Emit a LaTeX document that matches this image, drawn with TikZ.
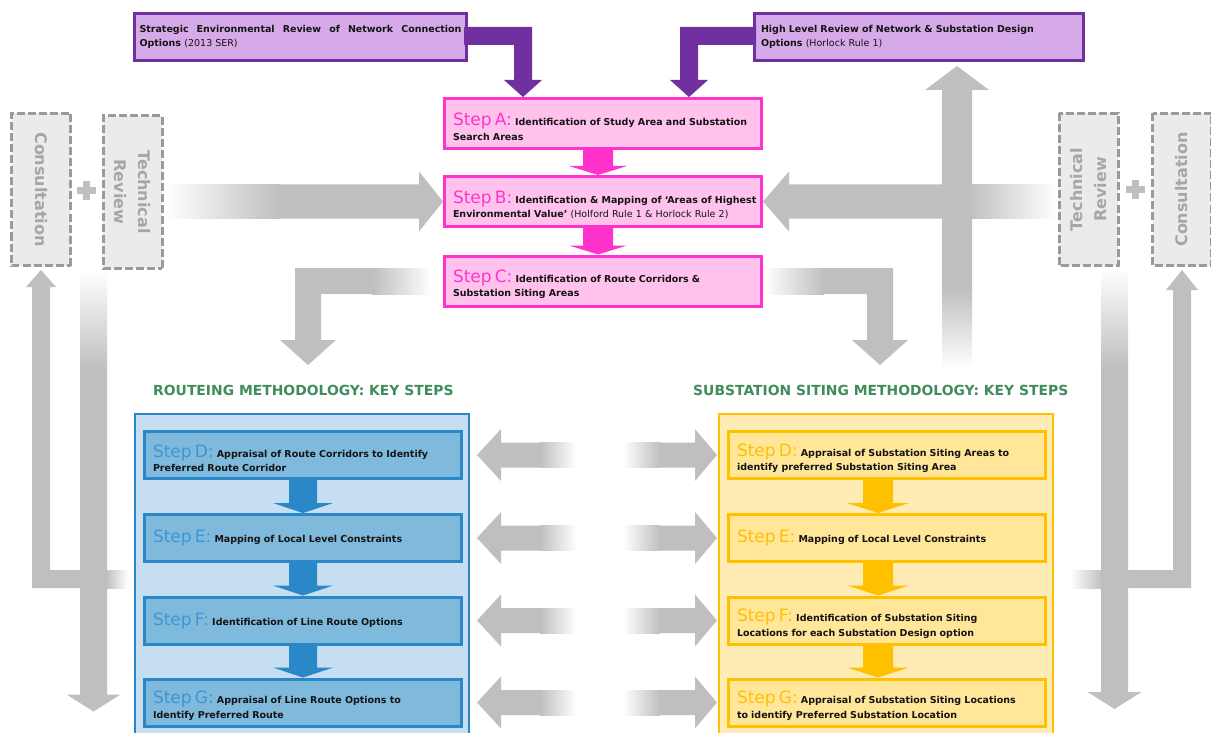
\documentclass[tikz,border=0pt]{standalone}
\usepackage{fontspec}
\setmainfont{DejaVu Sans}
\usetikzlibrary{calc}

\definecolor{purpfill}{HTML}{D6AAE8}
\definecolor{purpline}{HTML}{7030A0}
\definecolor{pinkfill}{HTML}{FFC2EC}
\definecolor{pinkline}{HTML}{FF33CC}
\definecolor{bluepanel}{HTML}{C5DEF1}
\definecolor{bluefill}{HTML}{7FB9DC}
\definecolor{blueline}{HTML}{2A87C8}
\definecolor{bluetext}{HTML}{3C96D6}
\definecolor{yelpanel}{HTML}{FFEBB4}
\definecolor{yelfill}{HTML}{FFE699}
\definecolor{yelline}{HTML}{FFC000}
\definecolor{arrowgray}{HTML}{BFBFBF}
\definecolor{dashgray}{HTML}{9A9A9A}
\definecolor{boxgray}{HTML}{EBEBEB}
\definecolor{labelgray}{HTML}{A6A6A6}
\definecolor{headgreen}{HTML}{3F8C5C}
\definecolor{bodytext}{HTML}{141414}

\newcommand{\stp}[3][19pt]{{\rule{0pt}{#1}\color{#2}\fontsize{17}{14}\selectfont\mdseries #3}}

\tikzset{
  bodyfont/.style={font=\fontsize{9.5}{14.5}\selectfont\bfseries, text=bodytext},
  reviewbox/.style={bodyfont, draw=purpline, fill=purpfill, line width=3pt,
    minimum height=47pt, inner sep=0pt},
  stepbox/.style={bodyfont, line width=3pt, minimum width=317pt, minimum height=47pt,
    text width=300pt, inner sep=0pt, align=left},
  pinkstep/.style={stepbox, draw=pinkline, fill=pinkfill, minimum height=50pt},
  bluestep/.style={stepbox, draw=blueline, fill=bluefill},
  yelstep/.style={stepbox, draw=yelline, fill=yelfill},
  panel/.style={line width=2pt, minimum width=334pt, minimum height=340pt,
    inner sep=0pt, anchor=north west},
  dashbox/.style={draw=dashgray, fill=boxgray, line width=3pt, dash pattern=on 8pt off 3pt,
    minimum width=152pt, minimum height=59pt, inner sep=0pt, text=labelgray,
    font=\fontsize{16}{24}\selectfont\bfseries, align=center},
  heading/.style={font=\fontsize{13.9}{16}\selectfont\bfseries, text=headgreen,
    anchor=west, inner sep=0pt},
  blockdown/.style args={#1/#2/#3}{to path={
    ($(\tikztostart)+(-#1,0)$) -- ($(\tikztotarget)+(-#1,-#3)$)
    -- ($(\tikztotarget)+(-#2,-#3)$) -- (\tikztotarget)
    -- ($(\tikztotarget)+(#2,-#3)$) -- ($(\tikztotarget)+(#1,-#3)$)
    -- ($(\tikztostart)+(#1,0)$) -- cycle}}
}

\begin{document}
\begin{tikzpicture}[x=1pt,y=-1pt]
  \useasboundingbox (0,0) rectangle (1211,733);
  \clip (0,0) rectangle (1211,733);

  \node[reviewbox, minimum width=332pt, text width=322pt, align=justify] (ser) at (300.5,37)
    {Strategic Environmental Review of Network Connection\linebreak Options {\mdseries(2013 SER)}};
  \node[reviewbox, minimum width=329pt, text width=316pt, align=left] (hlr) at (919,37)
    {High Level Review of Network \& Substation Design\\Options {\mdseries(Horlock Rule 1)}};

  \node[pinkstep] (A) at (603,123.5)
    {\stp{pinkline}{Step A:} Identification of Study Area and Substation\\Search Areas};
  \node[pinkstep] (B) at (603,201.5)
    {\mbox{\stp{pinkline}{Step B:} Identification \& Mapping of ‘Areas of Highest}\\Environmental Value’ {\mdseries(Holford Rule 1 \& Horlock Rule 2)}};
  \node[pinkstep] (C) at (603,281)
    {\stp{pinkline}{Step C:} Identification of Route Corridors \&\\Substation Siting Areas};

  \node[dashbox, rotate=-90] (consL) at (41,189.5) {Consultation};
  \node[dashbox, rotate=-90] (techL) at (132.5,192) {Technical\\Review};
  \node[dashbox, rotate=90] (techR) at (1088.5,189.5) {Technical\\Review};
  \node[dashbox, rotate=90] (consR) at (1182,189.5) {Consultation};

  \coordinate (plusL) at ($(consL)!0.5!(techL)$);
  \coordinate (plusR) at ($(techR)!0.5!(consR)$);
  \foreach \p in {plusL,plusR}{
    \fill[arrowgray] ($(\p)+(-9.5,-3.5)$) rectangle ++(19,7);
    \fill[arrowgray] ($(\p)+(-3.5,-9.5)$) rectangle ++(7,19);
  }

  % purple feeds into step A
  \begin{scope}[fill=purpline]
    \fill ([xshift=-80pt]A.north) -- ++(19,-17) -- ++(-10,0) -- ++(0,-53) -- ++(-68,0)
      -- ++(0,18) -- ++(50,0) -- ++(0,35) -- ++(-10,0) -- cycle;
    \fill ([xshift=86pt]A.north) -- ++(19,-17) -- ++(-10,0) -- ++(0,-35) -- ++(58,0)
      -- ++(0,-18) -- ++(-76,0) -- ++(0,53) -- ++(-10,0) -- cycle;
  \end{scope}

  % grey review and consultation arrows
  \begin{scope}[fill=arrowgray]
    \fill (B.west) -- ++(-24,-30) -- ++(0,13) -- ++(-140,0) -- ++(0,34) -- ++(140,0)
      -- ++(0,13) -- cycle;
    \shade[left color=white, right color=arrowgray] ($(B.west)+(-278,-17)$) rectangle ($(B.west)+(-163,17)$);
    \fill (B.east) -- ++(26,-30) -- ++(0,13) -- ++(180,0) -- ++(0,34) -- ++(-180,0)
      -- ++(0,13) -- cycle;
    \shade[left color=arrowgray, right color=white] ($(B.east)+(205,-17)$) rectangle ($(B.east)+(293,17)$);

    \coordinate (vt) at ([xshift=38pt,yshift=-4pt]hlr.south);
    \fill (vt) -- ++(32,24) -- ++(-17,0) -- ++(0,200) -- ++(-30,0) -- ++(0,-200)
      -- ++(-17,0) -- cycle;
    \shade[top color=arrowgray, bottom color=white] ($(vt)+(-15,223)$) rectangle ($(vt)+(15,302)$);

    \fill ($(C.west)+(-70,-13)$) -- ++(-78,0) -- ++(0,72) -- ++(-15,0) -- ++(28,25)
      -- ++(28,-25) -- ++(-15,0) -- ++(0,-46) -- ++(52,0) -- cycle;
    \shade[left color=arrowgray, right color=white] ($(C.west)+(-71,-13)$) rectangle ($(C.west)+(-11,13)$);
    \fill ($(C.east)+(60,-13)$) -- ++(70,0) -- ++(0,72) -- ++(15,0) -- ++(-28,25)
      -- ++(-28,-25) -- ++(15,0) -- ++(0,-46) -- ++(-44,0) -- cycle;
    \shade[left color=white, right color=arrowgray] ($(C.east)+(2,-13)$) rectangle ($(C.east)+(61,13)$);

    \coordinate (tl) at ([yshift=-3pt]consL.east);
    \fill (tl) -- ++(15,17) -- ++(-6,0) -- ++(0,283) -- ++(57,0) -- ++(0,18) -- ++(-75,0)
      -- ++(0,-301) -- ++(-6,0) -- cycle;
    \shade[left color=arrowgray, right color=white] ($(tl)+(65,300)$) rectangle ($(tl)+(87,318)$);
    \coordinate (tr) at ([yshift=-3pt]consR.west);
    \fill (tr) -- ++(16,20) -- ++(-7,0) -- ++(0,298) -- ++(-63,0) -- ++(0,-18) -- ++(45,0)
      -- ++(0,-280) -- ++(-7,0) -- cycle;
    \shade[left color=white, right color=arrowgray] ($(tr)+(-112,300)$) rectangle ($(tr)+(-80,318)$);

    \coordinate (dl) at ([xshift=-39pt]techL.east);
    \coordinate (dr) at ([xshift=26pt]techR.west);
    \foreach \d in {dl,dr}{
      \shade[top color=white, bottom color=arrowgray] ($(\d)+(-13.5,1)$) rectangle ($(\d)+(13.5,100)$);
      \fill ($(\d)+(-13.5,99)$) -- ++(0,326) -- ++(-13.5,0) -- ++(27,17) -- ++(27,-17)
        -- ++(-13.5,0) -- ++(0,-326) -- cycle;
    }
  \end{scope}

  \node[panel, draw=blueline, fill=bluepanel] (routepanel) at (134,413) {};
  \node[panel, draw=yelline, fill=yelpanel] (sitepanel) at (718,413) {};
  \node[heading] (routehead) at (153,390) {ROUTEING METHODOLOGY: KEY STEPS};
  \node[heading] (sitehead) at (693,390) {SUBSTATION SITING METHODOLOGY: KEY STEPS};

  \node[bluestep] (Dl) at (303,455)
    {\stp{bluetext}{Step D:} Appraisal of Route Corridors to Identify\\Preferred Route Corridor};
  \node[bluestep] (El) at (303,538)
    {\stp[0pt]{bluetext}{Step E:} Mapping of Local Level Constraints};
  \node[bluestep] (Fl) at (303,620.5)
    {\stp[0pt]{bluetext}{Step F:} Identification of Line Route Options};
  \node[bluestep] (Gl) at (303,702.5)
    {\stp{bluetext}{Step G:} Appraisal of Line Route Options to\\Identify Preferred Route};

  \node[yelstep] (Dr) at (887,455)
    {\stp{yelline}{Step D:} Appraisal of Substation Siting Areas to\\identify preferred Substation Siting Area};
  \node[yelstep] (Er) at (887,538)
    {\stp[0pt]{yelline}{Step E:} Mapping of Local Level Constraints};
  \node[yelstep] (Fr) at (887,620.5)
    {\stp{yelline}{Step F:} Identification of Substation Siting\\Locations for each Substation Design option};
  \node[yelstep] (Gr) at (887,702.5)
    {\stp{yelline}{Step G:} Appraisal of Substation Siting Locations\\to identify Preferred Substation Location};

  \fill[pinkline] ([xshift=-5pt]A.south) to[blockdown=15/29/9] ([xshift=-5pt]B.north);
  \fill[pinkline] ([xshift=-5pt]B.south) to[blockdown=15/29/9] ([xshift=-5pt]C.north);
  \foreach \u/\v in {Dl/El,El/Fl,Fl/Gl}
    \fill[blueline] (\u.south) to[blockdown=14/30/10] (\v.north);
  \foreach \u/\v in {Dr/Er,Er/Fr,Fr/Gr}
    \fill[yelline] ([xshift=-9pt]\u.south) to[blockdown=15/31/10] ([xshift=-9pt]\v.north);

  \foreach \l/\r in {Dl/Dr,El/Er,Fl/Fr,Gl/Gr}{
    \fill[arrowgray] ($(\l.east)+(14,0)$) -- ++(24,-26) -- ++(0,13.5) -- ++(40,0) -- ++(0,25)
      -- ++(-40,0) -- ++(0,13.5) -- cycle;
    \shade[left color=arrowgray, right color=white] ($(\l.east)+(77,-12.5)$) rectangle ($(\l.east)+(113,12.5)$);
    \fill[arrowgray] ($(\r.west)+(-10,0)$) -- ++(-22,-26) -- ++(0,13.5) -- ++(-36,0) -- ++(0,25)
      -- ++(36,0) -- ++(0,13.5) -- cycle;
    \shade[left color=white, right color=arrowgray] ($(\r.west)+(-104,-12.5)$) rectangle ($(\r.west)+(-67,12.5)$);
  }
\end{tikzpicture}
\end{document}
